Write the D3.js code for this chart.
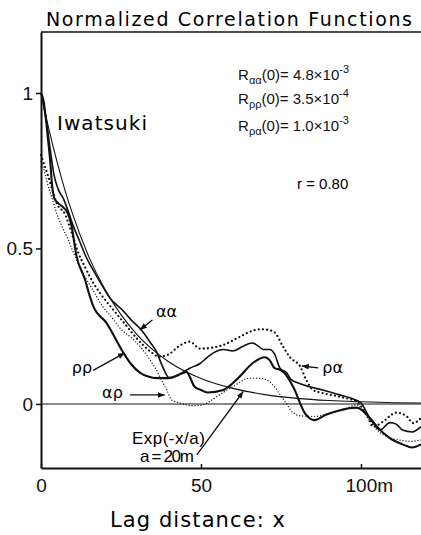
<!DOCTYPE html>
<html>
<head>
<meta charset="utf-8">
<script src="https://cdn.jsdelivr.net/npm/d3@7"></script>
<style>
  body { margin: 0; background: #fff; }
  svg { display: block; }
</style>
</head>
<body>
<svg id="svg_corr" width="421" height="535"></svg>
<script>
// values: [lag x (m), normalized correlation]
let curve_aa = [[0,1],[0.5,0.98],[1,0.95],[1.8,0.9],[3,0.81],[4,0.74],[5.4,0.69],[7,0.66],[8.5,0.62],[10,0.575],[12.2,0.52],[14,0.475],[16.3,0.43],[19.4,0.376],[21.6,0.34],[25.6,0.3],[28,0.272],[31.5,0.236],[34,0.2],[36,0.17],[38,0.12],[40,0.085],[42,0.09],[44,0.1],[46.5,0.115],[49.7,0.13],[52,0.15],[54,0.165],[57,0.175],[60,0.17],[63,0.185],[66,0.196],[68,0.185],[69.5,0.175],[71.5,0.175],[73,0.16],[74.7,0.115],[76.8,0.1],[78,0.08],[81,0.065],[84,0.055],[88,0.045],[93,0.03],[97,0.018],[100,0.003],[103,-0.05],[106,-0.084],[109,-0.06],[111,-0.065],[113,-0.084],[116,-0.09],[118.75,-0.073]];
let curve_pp = [[0,1],[0.7,0.98],[1.5,0.92],[2.2,0.85],[2.8,0.79],[3.5,0.7],[4.2,0.66],[5.4,0.645],[7,0.632],[8,0.62],[9.6,0.57],[11,0.48],[13.75,0.4],[15.3,0.345],[16.3,0.315],[20.5,0.26],[25.6,0.167],[28,0.13],[31,0.1],[33.5,0.088],[36,0.083],[40,0.083],[43,0.093],[45.5,0.103],[46.5,0.087],[48,0.055],[50,0.045],[52,0.037],[57,0.045],[62,0.087],[66,0.13],[70,0.15],[71.5,0.14],[73,0.115],[74.7,0.11],[76,0.1],[78.8,0.055],[82.5,-0.03],[85.5,-0.052],[89,-0.035],[93.4,-0.02],[98.6,-0.012],[102.8,-0.045],[105,-0.073],[109,-0.11],[113,-0.13],[116,-0.14],[118.75,-0.13]];
let curve_pa = [[0,0.8],[1,0.77],[2,0.74],[3.5,0.69],[4.9,0.645],[7.5,0.61],[9.6,0.55],[11.5,0.49],[13.75,0.44],[16,0.395],[18.4,0.357],[22,0.31],[26,0.26],[30,0.21],[34,0.17],[37,0.152],[40,0.16],[43,0.185],[46.5,0.2],[49.7,0.178],[53,0.18],[57,0.19],[62,0.215],[66,0.235],[69,0.24],[71,0.238],[73,0.23],[75.6,0.185],[77.8,0.15],[81,0.12],[83,0.075],[85,0.045],[88,0.035],[93.4,0.023],[98.6,0.007],[101.8,-0.035],[103.8,-0.073],[106.9,-0.057],[111,-0.028],[114.3,-0.04],[116.3,-0.062],[118.75,-0.045]];
let curve_ap = [[0,0.78],[1,0.75],[2,0.71],[3.5,0.66],[4.7,0.62],[6.8,0.565],[8,0.54],[10,0.49],[12.2,0.44],[14,0.405],[16.3,0.365],[19.5,0.31],[22,0.28],[25,0.24],[28,0.215],[31,0.184],[33.5,0.15],[36,0.11],[38,0.07],[39.3,0.045],[40.8,0.013],[43.4,0.003],[47.5,-0.006],[50.6,-0.003],[53,0.01],[55,0.024],[60,0.056],[65.3,0.083],[68.4,0.083],[72.6,0.06],[74.7,0.03],[76.8,0.0],[78,-0.02],[81,-0.038],[86,-0.04],[90,-0.03],[94.4,-0.02],[98.6,-0.003],[101.8,-0.04],[105,-0.083],[108,-0.105],[112,-0.116],[115.3,-0.12],[118.75,-0.116]];
let curve_exp = [[0,1],[2.5,0.882],[5,0.779],[7.5,0.687],[10,0.607],[15,0.472],[20,0.368],[25,0.287],[30,0.223],[35,0.174],[40,0.135],[50,0.082],[60,0.05],[70,0.03],[80,0.018],[90,0.011],[100,0.007],[110,0.004],[118.75,0.003]];

let x_ticks = [0, 50, 100];
let x_tick_labels = ['0', '50', '100m'];
let y_ticks = [0, 0.5, 1];
let y_tick_labels = ['0', '0.5', '1'];

// arrow labels: [label, label x, label y, tail x, tail y, tip x, tip y]
let arrow_labels = [
    ['αα', 35.9, 0.28, 34.8, 0.27, 30.9, 0.238],
    ['ρρ', 9.6, 0.1, 16.3, 0.108, 26.2, 0.164],
    ['αρ', 19.1, 0.02, 27.8, 0.029, 38.7, 0.029],
    ['ρα', 87.9, 0.1, 86.6, 0.116, 81.5, 0.122]
];
let r0_labels = [['αα', '4.8', '-3'], ['ρρ', '3.5', '-4'], ['ρα', '1.0', '-3']];

let svg = d3.select('#svg_corr');
let svg_width = 421, svg_height = 535;
let margin = {left: 41, top: 32, right: 0, bottom: 67};

let x = d3.scaleLinear().domain([0, 118.75]).range([margin.left, svg_width - margin.right]);
let y = d3.scaleLinear().domain([-0.206, 1.196]).range([svg_height - margin.bottom, margin.top]);

// title
svg.append('text')
    .attr('x', 46).attr('y', 26)
    .attr('font-family', 'DejaVu Sans').attr('font-size', 19)
    .attr('textLength', 366).attr('lengthAdjust', 'spacing')
    .text('Normalized Correlation Functions');

// zero line
svg.append('line')
    .attr('x1', x(0)).attr('x2', x(118.75))
    .attr('y1', y(0)).attr('y2', y(0))
    .attr('stroke', '#111').attr('stroke-width', 1.1);

// curves
let line = d3.line()
    .x(d => x(d[0]))
    .y(d => y(d[1]))
    .curve(d3.curveMonotoneX);
let curves = [
    {data: curve_exp, width: 1.1, dash: null, cap: 'butt'},
    {data: curve_ap, width: 1.4, dash: '0,3', cap: 'round'},
    {data: curve_pa, width: 2.3, dash: '0,4.2', cap: 'round'},
    {data: curve_aa, width: 1.6, dash: null, cap: 'butt'},
    {data: curve_pp, width: 2.1, dash: null, cap: 'butt'}
];
svg.append('g').selectAll('path').data(curves).enter()
    .append('path')
    .attr('d', d => line(d.data))
    .attr('fill', 'none')
    .attr('stroke', '#111')
    .attr('stroke-width', d => d.width)
    .attr('stroke-dasharray', d => d.dash)
    .attr('stroke-linecap', d => d.cap)
    .attr('stroke-linejoin', 'round');

// frame: top line, left and bottom axes
svg.append('line')
    .attr('x1', x(0)).attr('x2', x(118.75))
    .attr('y1', margin.top).attr('y2', margin.top)
    .attr('stroke', '#111').attr('stroke-width', 1.5);

let y_axis = svg.append('g')
    .attr('transform', `translate(${x(0)},0)`)
    .call(d3.axisLeft(y).tickValues(y_ticks).tickSize(5).tickSizeOuter(0).tickPadding(3)
        .tickFormat((d, i) => y_tick_labels[i]));
let x_axis = svg.append('g')
    .attr('transform', `translate(0,${svg_height - margin.bottom})`)
    .call(d3.axisBottom(x).tickValues(x_ticks).tickSize(-4).tickSizeOuter(0).tickPadding(11)
        .tickFormat((d, i) => x_tick_labels[i]));
[y_axis, x_axis].forEach(ax => {
    ax.select('.domain').attr('stroke', '#111').attr('stroke-width', 2);
    ax.selectAll('.tick line').attr('stroke', '#111').attr('stroke-width', 1.5);
    ax.selectAll('.tick text')
        .attr('font-family', 'Liberation Sans').attr('font-size', 19).attr('fill', '#111');
});
x_axis.selectAll('.tick text').filter((d, i) => i == 2)
    .attr('text-anchor', 'start').attr('x', -16);

// axis title
svg.append('text')
    .attr('x', 110).attr('y', 527)
    .attr('font-family', 'DejaVu Sans').attr('font-size', 21)
    .attr('textLength', 175).attr('lengthAdjust', 'spacing')
    .text('Lag distance: x');

// site name
svg.append('text')
    .attr('x', x(5)).attr('y', y(0.881))
    .attr('font-family', 'DejaVu Sans').attr('font-size', 20)
    .attr('textLength', 90).attr('lengthAdjust', 'spacing')
    .text('Iwatsuki');

// R(0) values
let r0 = svg.append('g').selectAll('text').data(r0_labels).enter()
    .append('text')
    .attr('x', x(61.6))
    .attr('y', (d, i) => y([1.042, 0.966, 0.878][i]))
    .attr('font-family', 'Liberation Sans').attr('font-size', 15).attr('fill', '#111');
r0.append('tspan').text('R');
r0.append('tspan').attr('font-size', 11).attr('dy', 4).text(d => d[0]);
r0.append('tspan').attr('dy', -4).text(d => '(0)= ' + d[1] + '×10');
r0.append('tspan').attr('font-size', 11).attr('dy', -7).text(d => d[2]);

svg.append('text')
    .attr('x', x(80)).attr('y', y(0.691))
    .attr('font-family', 'Liberation Sans').attr('font-size', 15)
    .text('r = 0.80');

// arrows
svg.append('defs').append('marker')
    .attr('id', 'head')
    .attr('viewBox', '0 0 10 10')
    .attr('refX', 10).attr('refY', 5)
    .attr('markerWidth', 7).attr('markerHeight', 7)
    .attr('markerUnits', 'userSpaceOnUse')
    .attr('orient', 'auto')
    .append('path').attr('d', 'M0,1 L10,5 L0,9 Z').attr('fill', '#111');

let arrows = svg.append('g');
arrows.selectAll('line').data(arrow_labels).enter()
    .append('line')
    .attr('x1', d => x(d[3])).attr('y1', d => y(d[4]))
    .attr('x2', d => x(d[5])).attr('y2', d => y(d[6]))
    .attr('stroke', '#111').attr('stroke-width', 1.3)
    .attr('marker-end', 'url(#head)');
arrows.selectAll('text').data(arrow_labels).enter()
    .append('text')
    .attr('x', d => x(d[1])).attr('y', d => y(d[2]))
    .attr('font-family', 'DejaVu Sans').attr('font-size', 16)
    .text(d => d[0]);

// exponential label
arrows.append('line')
    .attr('x1', x(48.7)).attr('y1', y(-0.164))
    .attr('x2', x(63.2)).attr('y2', y(0.04))
    .attr('stroke', '#111').attr('stroke-width', 1.3)
    .attr('marker-end', 'url(#head)');
arrows.append('text')
    .attr('x', x(28.4)).attr('y', y(-0.129))
    .attr('font-family', 'Liberation Sans').attr('font-size', 17)
    .attr('textLength', 73).attr('lengthAdjust', 'spacing')
    .text('Exp(-x/a)');
arrows.append('text')
    .attr('x', x(30.9)).attr('y', y(-0.186))
    .attr('font-family', 'Liberation Sans').attr('font-size', 17)
    .attr('textLength', 54).attr('lengthAdjust', 'spacing')
    .text('a = 20m');
</script>
</body>
</html>
